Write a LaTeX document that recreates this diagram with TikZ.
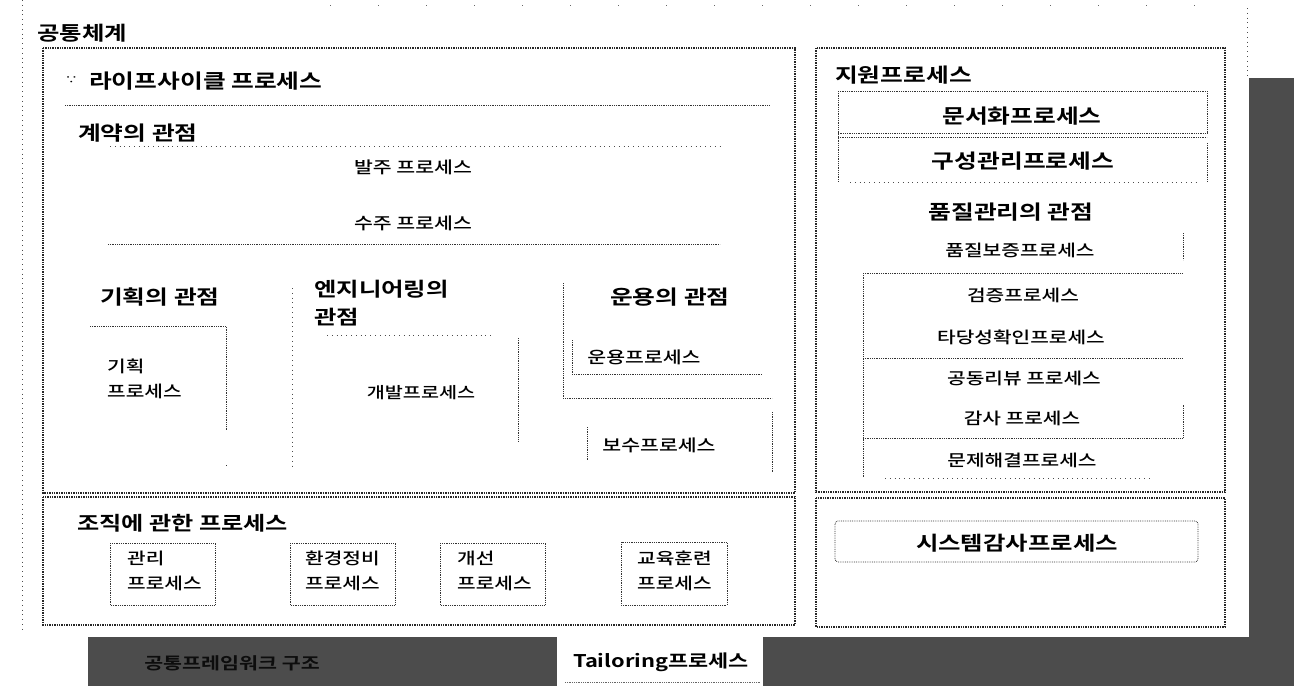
\documentclass[tikz,border=0pt]{standalone}
\usepackage{fontspec}
\setmainfont{Noto Sans CJK KR}[FakeStretch=1.25,UprightFont={Noto Sans CJK KR Medium},BoldFont={Noto Sans CJK KR Bold}]
\begin{document}
\begin{tikzpicture}[x=1pt,y=-1pt,
  frame/.style={draw=black!85,densely dotted,line width=1.4pt},
  inner/.style={draw=black!80,densely dotted,line width=0.8pt},
  sparse/.style={draw=black!70,loosely dotted,line width=0.8pt},
  band/.style={fill=black!70,draw=none},
  hdr/.style={inner sep=0pt,anchor=west,font=\fontsize{19.8}{22}\selectfont\bfseries},
  ctr/.style={inner sep=0pt,anchor=center,font=\fontsize{16.4}{18}\selectfont},
  rsm/.style={inner sep=0pt,anchor=center,font=\fontsize{16.2}{18}\selectfont},
  two/.style={inner sep=0pt,anchor=north west,align=left,font=\fontsize{16.2}{25}\selectfont}]
\useasboundingbox (0,0) rectangle (1302,686);
\fill[white] (0,0) rectangle (1302,686);
% gray bands
\path[band] (1249,78) rectangle (1294,686);
\path[band] (88,637) rectangle (1294,686);
% outer traces
\draw[sparse] (22,0) -- (22,632);
\draw[sparse] (1247,8) -- (1247,78);
\draw[black!60,line width=0.9pt,dash pattern=on 1pt off 47pt] (330,5) -- (1240,5);
% title
\node[inner sep=0pt,anchor=west,font=\fontsize{19.5}{22}\selectfont\bfseries] (title) at (37,33) {공통체계};
% main boxes
\draw[frame] (43,48) rectangle (795,493);
\draw[frame] (43,497) rectangle (795,625);
\draw[frame] (816,48) rectangle (1225,492);
\draw[frame] (816,498) rectangle (1225,627);
% life cycle box content
\node[inner sep=0pt,anchor=west,font=\fontsize{10}{10}\selectfont] (lcmark) at (65,80) {∵};
\node[hdr] (lc) at (89,81) {라이프사이클 프로세스};
\draw[inner] (65,105) -- (770,105);
\node[hdr] (contract) at (78,133) {계약의 관점};
\draw[sparse] (110,146) -- (720,146);
\node[ctr] (acq) at (413,167) {발주 프로세스};
\node[ctr] (sup) at (413,223) {수주 프로세스};
\draw[inner] (108,244) -- (720,244);
% planning
\node[hdr] (planview) at (100,297) {기획의 관점};
\draw[inner] (90,326) -- (226,326) -- (226,430);
\draw[inner] (226,465) -- (226,466);
\node[two] (planproc) at (107,359) {기획\\프로세스};
\draw[sparse] (292,288) -- (292,470);
% engineering
\node[inner sep=0pt,anchor=north west,align=left,font=\fontsize{19.5}{28}\selectfont\bfseries] (engview) at (314,280) {엔지니어링의\\관점};
\draw[sparse] (327,335) -- (492,335);
\draw[inner] (518,338) -- (518,441);
\node[ctr,font=\fontsize{15.7}{18}\selectfont] (dev) at (421,393) {개발프로세스};
% operation
\node[hdr] (opview) at (610,297) {운용의 관점};
\draw[inner] (563,283) -- (563,398) -- (772,398);
\draw[inner] (572,340) -- (572,374) -- (762,374);
\node[ctr] (oper) at (644,357) {운용프로세스};
\draw[inner] (587,427) -- (587,460);
\draw[inner] (772,412) -- (772,473);
\node[ctr] (maint) at (659,445) {보수프로세스};
% organizational
\node[inner sep=0pt,anchor=west,font=\fontsize{19.3}{21}\selectfont\bfseries] (org) at (77,523) {조직에 관한 프로세스};
\draw[inner] (110,543) rectangle (215,605);
\node[two] (mgmt) at (127,551) {관리\\프로세스};
\draw[inner] (290,543) rectangle (395,605);
\node[two] (infra) at (305,551) {환경정비\\프로세스};
\draw[inner] (440,543) rectangle (545,605);
\node[two] (impr) at (457,551) {개선\\프로세스};
\draw[inner] (621,542) rectangle (727,605);
\node[two] (train) at (637,551) {교육훈련\\프로세스};
% support
\node[hdr] (supp) at (835,75) {지원프로세스};
\draw[inner] (838,91) -- (1207,91) -- (1207,133) -- (838,133);
\draw[inner] (838,91) -- (838,182);
\draw[inner] (838,137) -- (1207,137);
\draw[inner] (1207,143) -- (1207,182);
\draw[sparse] (850,182) -- (1200,182);
\node[hdr,anchor=center] (doc) at (1022,116) {문서화프로세스};
\node[hdr,anchor=center] (cm) at (1023,161) {구성관리프로세스};
\node[hdr,anchor=center] (qview) at (1011,212) {품질관리의 관점};
\draw[inner] (1183,233) -- (1183,260);
\node[rsm] (qa) at (1020,250) {품질보증프로세스};
\draw[inner] (863,273) -- (1183,273);
\draw[inner] (863,273) -- (863,477);
\node[rsm] (verif) at (1023,295) {검증프로세스};
\node[rsm] (valid) at (1021,337) {타당성확인프로세스};
\draw[inner] (863,358) -- (1183,358);
\node[rsm] (review) at (1024,378) {공동리뷰 프로세스};
\node[rsm] (audit) at (1022,418) {감사 프로세스};
\draw[inner] (863,438) -- (1183,438) -- (1183,405);
\node[rsm] (prob) at (1022,460) {문제해결프로세스};
\draw[sparse] (885,478) -- (1150,478);
% system audit
\draw[inner,rounded corners=3pt] (835,521) rectangle (1198,562);
\node[hdr,anchor=center,font=\fontsize{19.5}{22}\selectfont\bfseries] (sysaudit) at (1017,543) {시스템감사프로세스};
% bottom band
\node[inner sep=0pt,anchor=center,font=\fontsize{16.5}{19}\selectfont\bfseries,text=black!95] (common) at (232,663) {공통프레임워크 구조};
\node[fill=white,draw=none,minimum width=206pt,minimum height=49pt,inner sep=0pt,anchor=north west] (tailbox) at (557,637) {};
\node[inner sep=0pt,anchor=center,font=\fontsize{17.5}{20}\selectfont\bfseries] (tail) at (661,662) {Tailoring프로세스};
\draw[black!60,densely dotted,line width=0.8pt] (565,682) -- (760,682);
\end{tikzpicture}
\end{document}
